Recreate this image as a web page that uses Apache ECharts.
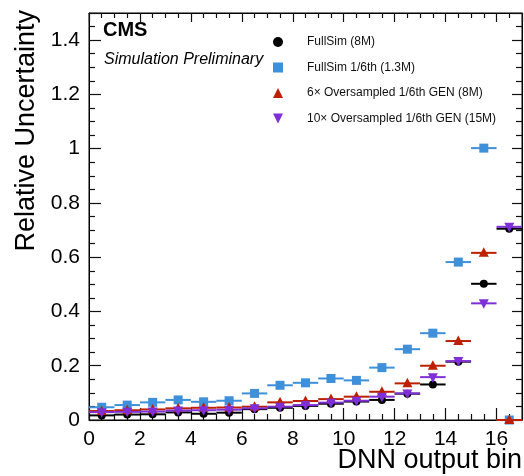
<!DOCTYPE html>
<html>
<head>
<meta charset="utf-8">
<script src="https://cdn.jsdelivr.net/npm/echarts@6/dist/echarts.min.js"></script>
<style>
html,body{margin:0;padding:0;background:#fff;}
#chart{width:524px;height:476px;}
</style>
</head>
<body>
<div id="chart"></div>
<script>
// DNN output bins (bin index; each bin spans [i, i+1])
const bins = [0,1,2,3,4,5,6,7,8,9,10,11,12,13,14,15,16];
const seriesNames = [
  'FullSim (8M)',
  'FullSim 1/6th (1.3M)',
  '6\u00d7 Oversampled 1/6th GEN (8M)',
  '10\u00d7 Oversampled 1/6th GEN (15M)'
];
const fullSim      = [0.017,0.020,0.021,0.028,0.023,0.027,0.040,0.045,0.052,0.060,0.068,0.074,0.097,0.131,0.215,0.502,0.705];
const fullSim6th   = [0.047,0.055,0.065,0.074,0.067,0.071,0.098,0.128,0.137,0.153,0.146,0.193,0.261,0.320,0.582,1.002,0.000];
const overs6x      = [0.033,0.036,0.039,0.043,0.045,0.046,0.049,0.065,0.070,0.077,0.086,0.104,0.135,0.200,0.291,0.616,0.000];
const overs10x     = [0.029,0.030,0.031,0.035,0.036,0.038,0.043,0.049,0.055,0.064,0.071,0.086,0.098,0.158,0.217,0.430,0.712];
const xTicks = [0,2,4,6,8,10,12,14,16];
const yTicks = [0,0.2,0.4,0.6,0.8,1,1.2,1.4];

const colors = ['#000000','#3f90da','#bd1f01','#7f2fd8'];
const markers = ['circle','square','triangle','triangleDown'];
const values = [fullSim, fullSim6th, overs6x, overs10x];
const FONT = '"Liberation Sans", Arial, Helvetica, sans-serif';

function markerShape(kind, cx, cy, color){
  if(kind==='circle') return {type:'circle', shape:{cx:cx, cy:cy, r:4}, style:{fill:color}};
  if(kind==='square') return {type:'rect', shape:{x:cx-4.5, y:cy-4.5, width:9, height:9}, style:{fill:color}};
  if(kind==='triangle') return {type:'polygon', shape:{points:[[cx,cy-5.5],[cx+5,cy+4],[cx-5,cy+4]]}, style:{fill:color}};
  return {type:'polygon', shape:{points:[[cx,cy+5.5],[cx+5,cy-4],[cx-5,cy-4]]}, style:{fill:color}};
}

function makeRender(idx){
  return function(params, api){
    const b = api.value(0), y = api.value(1);
    const p0 = api.coord([b, y]);
    const p1 = api.coord([b+1, y]);
    const c  = api.coord([b+0.5, y]);
    return {type:'group', children:[
      {type:'line', shape:{x1:p0[0], y1:p0[1], x2:p1[0], y2:p1[1]}, style:{stroke:colors[idx], lineWidth:2}},
      markerShape(markers[idx], c[0], c[1], colors[idx])
    ]};
  };
}

const series = values.map(function(vals, idx){
  return {
    type:'custom',
    name: seriesNames[idx],
    xAxisIndex:0, yAxisIndex:0,
    clip:false,
    itemStyle:{color:colors[idx]},
    renderItem: makeRender(idx),
    data: bins.map(function(b,i){ return [b, vals[i]]; }),
    z: 2+idx
  };
});
// invisible helper series bound to the top / right frame axes so their ticks are drawn
series.push({type:'scatter', name:'_frame', xAxisIndex:1, yAxisIndex:1, silent:true,
  symbolSize:0, itemStyle:{opacity:0},
  data: bins.map(function(b,i){ return [b, fullSim[i]]; })});

const legendIcons = ['circle','rect','triangle','path://M0,0 L10,0 L5,10 Z'];

function axLine(){ return {show:true, onZero:false, lineStyle:{color:'#000', width:1}}; }
function tick(len){ return {show:true, inside:true, length:len, lineStyle:{color:'#111', width:1.2}}; }
function minor(len){ return {show:true, splitNumber:4, length:len, lineStyle:{color:'#111', width:1.2}}; }

const chart = echarts.init(document.getElementById('chart'), null, {renderer:'canvas'});
chart.setOption({
  animation:false,
  backgroundColor:'#fff',
  grid:{left:89, right:2, top:13, bottom:56, containLabel:false, show:true, borderColor:'#000', borderWidth:1, backgroundColor:'transparent'},
  xAxis:[
    {type:'value', position:'bottom', min:0, max:17, interval:2,
     axisLine:axLine(), axisTick:tick(12), minorTick:minor(6),
     splitLine:{show:false},
     axisLabel:{show:true, color:'#000', fontSize:21, fontFamily:FONT, margin:9, showMaxLabel:false,
       formatter:function(v){ return xTicks.indexOf(v)>=0 ? String(v) : ''; }}},
    {type:'value', position:'top', min:0, max:17, interval:2,
     axisLine:axLine(), axisTick:tick(9), minorTick:minor(5),
     splitLine:{show:false}, axisLabel:{show:false}}
  ],
  yAxis:[
    {type:'value', position:'left', min:0, max:1.5, interval:0.2,
     axisLine:axLine(), axisTick:tick(12), minorTick:minor(6),
     splitLine:{show:false},
     axisLabel:{show:true, color:'#000', fontSize:21, fontFamily:FONT, margin:9, showMaxLabel:false,
       formatter:function(v){ const r=Math.round(v*10)/10; return yTicks.indexOf(r)>=0 ? String(r) : ''; }}},
    {type:'value', position:'right', min:0, max:1.5, interval:0.2,
     axisLine:axLine(), axisTick:tick(10), minorTick:minor(6),
     splitLine:{show:false}, axisLabel:{show:false}}
  ],
  legend:{
    show:true, orient:'vertical', left:268, top:30,
    itemWidth:10, itemHeight:10, itemGap:11.5,
    selectedMode:false,
    data: seriesNames.map(function(n,i){ return {name:n, icon:legendIcons[i], itemStyle:{color:colors[i]}}; }),
    textStyle:{color:'#111', fontSize:12, fontFamily:FONT, lineHeight:14, padding:[0,0,0,19]}
  },
  graphic:[
    {type:'text', left:103, top:20, style:{text:'CMS', font:'bold 20px '+FONT, fill:'#000'}},
    {type:'text', left:104, top:52, style:{text:'Simulation Preliminary', font:'italic 16px '+FONT, fill:'#000'}},
    {type:'text', x:27, y:10, rotation:Math.PI/2,
     style:{text:'Relative Uncertainty', font:'27px '+FONT, fill:'#000', align:'right', verticalAlign:'middle'}},
    {type:'text', x:522, y:461,
     style:{text:'DNN output bin', font:'27px '+FONT, fill:'#000', align:'right', verticalAlign:'middle'}}
  ],
  series: series
});
</script>
</body>
</html>
